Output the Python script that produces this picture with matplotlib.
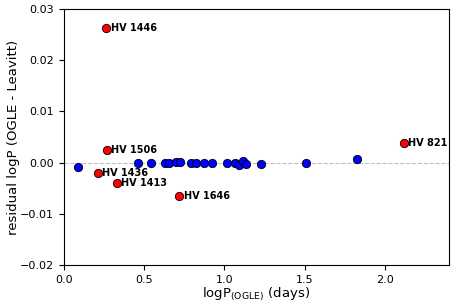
import matplotlib
matplotlib.use('Agg')
import matplotlib.pyplot as plt

# blue: matched stars
logp_blue = [0.09, 0.463, 0.541, 0.627, 0.656, 0.696, 0.725, 0.794, 0.824, 0.874,
             0.925, 1.015, 1.065, 1.094, 1.117, 1.134, 1.228, 1.511, 1.826]
res_blue = [-0.0008, 0.0, 0.0, 0.0, 0.0, 0.00005, 0.00005, 0.0, -0.0001, 0.0,
            0.0, -0.0001, -0.0001, -0.0004, 0.0003, -0.0002, -0.0002, -0.0001, 0.0008]

# red: outliers
names_red = ['HV 1446', 'HV 1506', 'HV 1436', 'HV 1413', 'HV 1646', 'HV 821']
logp_red = [0.264, 0.268, 0.214, 0.329, 0.719, 2.118]
res_red = [0.0262, 0.0025, -0.0021, -0.0040, -0.0065, 0.0039]

fig = plt.figure(figsize=(4.58, 3.05), dpi=100)
ax = fig.add_axes([64 / 458, 40 / 305, 385 / 458, 256 / 305])

ax.axhline(0, color='0.75', ls='--', lw=0.8, zorder=1)
ax.plot(logp_blue, res_blue, 'o', color='blue', mec='k', mew=0.6, ms=6, zorder=3)
ax.plot(logp_red, res_red, 'o', color='red', mec='k', mew=0.6, ms=6, zorder=3)
for n, x, y in zip(names_red, logp_red, res_red):
    ax.annotate(n, (x, y), xytext=(3, 0), textcoords='offset points',
                va='center', ha='left', fontsize=7, fontweight='bold')

ax.set_xlim(0, 2.4)
ax.set_ylim(-0.02, 0.03)
ax.set_xticks([0.0, 0.5, 1.0, 1.5, 2.0])
ax.set_yticks([-0.02, -0.01, 0.0, 0.01, 0.02, 0.03])
ax.tick_params(labelsize=8)
ax.set_xlabel(r'logP$_{\rm (OGLE)}$ (days)', fontsize=9.5, labelpad=1)
ax.set_ylabel('residual logP (OGLE - Leavitt)', fontsize=9.5, labelpad=0)

fig.savefig('out.png', dpi=100)
